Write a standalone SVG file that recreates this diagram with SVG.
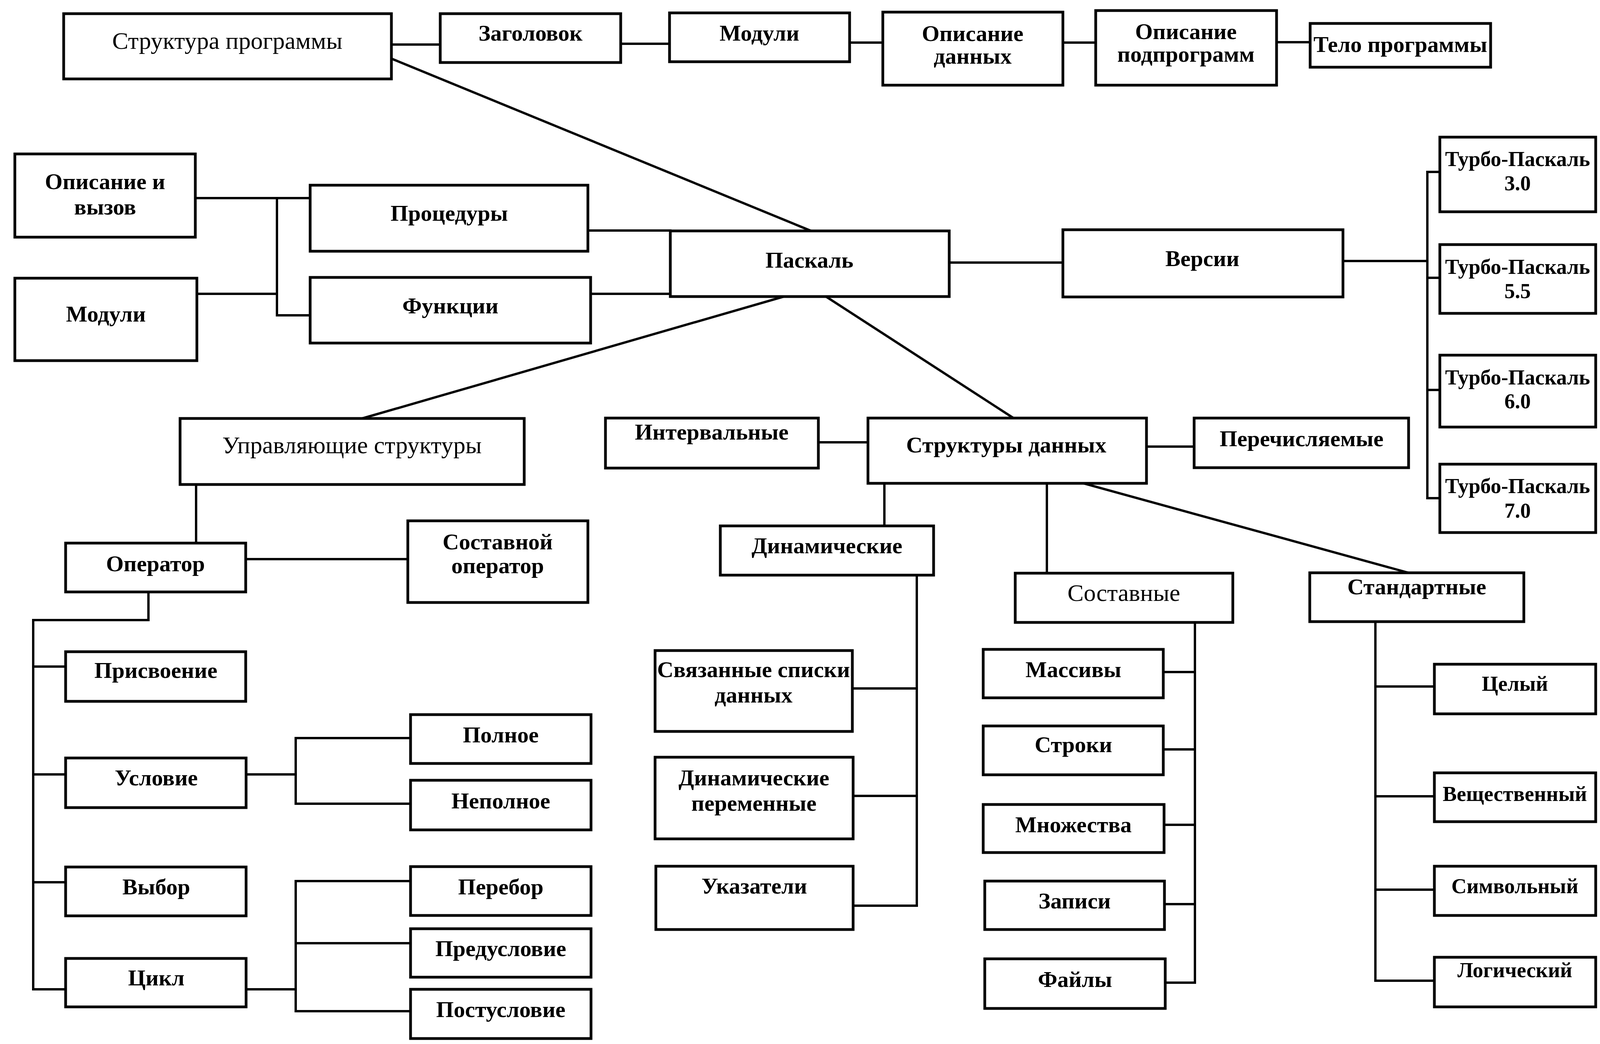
<svg xmlns="http://www.w3.org/2000/svg" width="4232" height="2672" viewBox="0 0 4232 2672">
<style>
.box{fill:#fff;stroke:#000;stroke-width:7}
.c{stroke:#000;stroke-width:6;fill:none;stroke-linecap:square}
.t{font-family:"Liberation Serif","Times New Roman",serif;font-size:58px;font-weight:bold;text-anchor:middle;fill:#000}
.r{font-weight:normal;font-size:62px}
.s{font-size:54px}
</style>
<rect width="4232" height="2672" fill="#fff"/>
<g id="connectors">
<path class="c" d="M1002 114H1127M1589 112H1714M2175 109H2260M2721 109H2805M3268 108H3354"/>
<path class="c" d="M1007 152L2074 590"/>
<path class="c" d="M500 507H794M709 507V807H794M504 752H709"/>
<path class="c" d="M1505 590H1716M1512 752H1716"/>
<path class="c" d="M2430 672H2721"/>
<path class="c" d="M3438 668H3654M3654 440V1275M3654 440H3686M3654 711H3686M3654 998H3686M3654 1275H3686"/>
<path class="c" d="M2003 760L920 1073M2116 760L2596 1071"/>
<path class="c" d="M2095 1132H2222M2935 1143H3057"/>
<path class="c" d="M502 1240V1390M629 1431H1044"/>
<path class="c" d="M380 1515V1587H85V2532M85 1706H168M85 1982H168M85 2258H168M85 2532H168"/>
<path class="c" d="M630 1982H757M757 1889V2057M757 1889H1051M757 2057H1051"/>
<path class="c" d="M630 2532H757M757 2255V2588M757 2255H1051M757 2414H1051M757 2588H1051"/>
<path class="c" d="M2264 1237V1346M2347 1472V2318M2182 1762H2347M2184 2037H2347M2184 2318H2347"/>
<path class="c" d="M2680 1237V1467M3059 1593V2515M2978 1720H3059M2978 1918H3059M2980 2111H3059M2981 2314H3059M2983 2515H3059"/>
<path class="c" d="M2777 1238L3606 1466"/>
<path class="c" d="M3521 1591V2510M3521 1757H3672M3521 2038H3672M3521 2277H3672M3521 2510H3672"/>
</g>
<g id="n1"><rect class="box" x="163" y="35" width="839" height="167"/><text class="t r" x="582" y="125">Структура программы</text></g>
<g id="n2"><rect class="box" x="1127" y="35" width="462" height="125"/><text class="t" x="1358" y="104">Заголовок</text></g>
<g id="n3"><rect class="box" x="1714" y="33" width="461" height="125"/><text class="t" x="1944" y="104">Модули</text></g>
<g id="n4"><rect class="box" x="2260" y="31" width="461" height="187"/><text class="t" x="2490" y="105">Описание</text><text class="t" x="2490" y="163">данных</text></g>
<g id="n5"><rect class="box" x="2805" y="27" width="463" height="191"/><text class="t" x="3036" y="100">Описание</text><text class="t" x="3036" y="158">подпрограмм</text></g>
<g id="n6"><rect class="box" x="3354" y="60" width="462" height="112"/><text class="t" x="3585" y="133">Тело программы</text></g>
<g id="n7"><rect class="box" x="38" y="394" width="462" height="213"/><text class="t" x="269" y="484">Описание и</text><text class="t" x="269" y="549">вызов</text></g>
<g id="n8"><rect class="box" x="38" y="712" width="466" height="211"/><text class="t" x="271" y="823">Модули</text></g>
<g id="n9"><rect class="box" x="794" y="474" width="711" height="169"/><text class="t" x="1150" y="565">Процедуры</text></g>
<g id="n10"><rect class="box" x="794" y="710" width="718" height="168"/><text class="t" x="1153" y="802">Функции</text></g>
<g id="n11"><rect class="box" x="1716" y="591" width="714" height="168"/><text class="t" x="2072" y="685">Паскаль</text></g>
<g id="n12"><rect class="box" x="2721" y="588" width="717" height="172"/><text class="t" x="3078" y="681">Версии</text></g>
<g id="n13"><rect class="box" x="3686" y="351" width="399" height="191"/><text class="t s" x="3885" y="425">Турбо-Паскаль</text><text class="t s" x="3885" y="487">3.0</text></g>
<g id="n14"><rect class="box" x="3686" y="626" width="399" height="176"/><text class="t s" x="3885" y="701">Турбо-Паскаль</text><text class="t s" x="3885" y="763">5.5</text></g>
<g id="n15"><rect class="box" x="3686" y="909" width="399" height="184"/><text class="t s" x="3885" y="984">Турбо-Паскаль</text><text class="t s" x="3885" y="1045">6.0</text></g>
<g id="n16"><rect class="box" x="3686" y="1188" width="399" height="175"/><text class="t s" x="3885" y="1262">Турбо-Паскаль</text><text class="t s" x="3885" y="1325">7.0</text></g>
<g id="n17"><rect class="box" x="461" y="1071" width="881" height="169"/><text class="t r" x="901" y="1160">Управляющие структуры</text></g>
<g id="n18"><rect class="box" x="1550" y="1070" width="545" height="128"/><text class="t" x="1822" y="1125">Интервальные</text></g>
<g id="n19"><rect class="box" x="2222" y="1070" width="713" height="167"/><text class="t" x="2576" y="1158">Структуры данных</text></g>
<g id="n20"><rect class="box" x="3057" y="1070" width="549" height="127"/><text class="t" x="3332" y="1142">Перечисляемые</text></g>
<g id="n21"><rect class="box" x="168" y="1390" width="461" height="125"/><text class="t" x="398" y="1462">Оператор</text></g>
<g id="n22"><rect class="box" x="1044" y="1333" width="461" height="209"/><text class="t" x="1274" y="1406">Составной</text><text class="t" x="1274" y="1467">оператор</text></g>
<g id="n23"><rect class="box" x="168" y="1668" width="461" height="127"/><text class="t" x="399" y="1735">Присвоение</text></g>
<g id="n24"><rect class="box" x="168" y="1940" width="462" height="127"/><text class="t" x="400" y="2010">Условие</text></g>
<g id="n25"><rect class="box" x="168" y="2219" width="462" height="125"/><text class="t" x="400" y="2289">Выбор</text></g>
<g id="n26"><rect class="box" x="168" y="2453" width="462" height="124"/><text class="t" x="400" y="2522">Цикл</text></g>
<g id="n27"><rect class="box" x="1051" y="1829" width="462" height="125"/><text class="t" x="1282" y="1900">Полное</text></g>
<g id="n28"><rect class="box" x="1051" y="1997" width="462" height="127"/><text class="t" x="1282" y="2069">Неполное</text></g>
<g id="n29"><rect class="box" x="1051" y="2218" width="462" height="125"/><text class="t" x="1282" y="2289">Перебор</text></g>
<g id="n30"><rect class="box" x="1051" y="2377" width="462" height="124"/><text class="t" x="1282" y="2447">Предусловие</text></g>
<g id="n31"><rect class="box" x="1051" y="2532" width="462" height="126"/><text class="t" x="1282" y="2603">Постусловие</text></g>
<g id="n32"><rect class="box" x="1844" y="1346" width="546" height="126"/><text class="t" x="2117" y="1416">Динамические</text></g>
<g id="n33"><rect class="box" x="1677" y="1665" width="505" height="207"/><text class="t" x="1929" y="1733">Связанные списки</text><text class="t" x="1929" y="1798">данных</text></g>
<g id="n34"><rect class="box" x="1677" y="1938" width="507" height="209"/><text class="t" x="1930" y="2010">Динамические</text><text class="t" x="1930" y="2075">переменные</text></g>
<g id="n35"><rect class="box" x="1679" y="2217" width="505" height="162"/><text class="t" x="1931" y="2287">Указатели</text></g>
<g id="n36"><rect class="box" x="2599" y="1467" width="557" height="126"/><text class="t r" x="2877" y="1538">Составные</text></g>
<g id="n37"><rect class="box" x="2517" y="1662" width="461" height="124"/><text class="t" x="2748" y="1733">Массивы</text></g>
<g id="n38"><rect class="box" x="2517" y="1858" width="461" height="125"/><text class="t" x="2748" y="1925">Строки</text></g>
<g id="n39"><rect class="box" x="2517" y="2059" width="463" height="123"/><text class="t" x="2748" y="2130">Множества</text></g>
<g id="n40"><rect class="box" x="2521" y="2255" width="460" height="124"/><text class="t" x="2751" y="2325">Записи</text></g>
<g id="n41"><rect class="box" x="2521" y="2454" width="462" height="127"/><text class="t" x="2752" y="2526">Файлы</text></g>
<g id="n42"><rect class="box" x="3353" y="1466" width="548" height="125"/><text class="t" x="3627" y="1521">Стандартные</text></g>
<g id="n43"><rect class="box" x="3672" y="1700" width="413" height="127"/><text class="t s" x="3878" y="1768">Целый</text></g>
<g id="n44"><rect class="box" x="3672" y="1978" width="413" height="125"/><text class="t s" x="3878" y="2050">Вещественный</text></g>
<g id="n45"><rect class="box" x="3672" y="2217" width="413" height="126"/><text class="t s" x="3878" y="2286">Символьный</text></g>
<g id="n46"><rect class="box" x="3672" y="2450" width="413" height="127"/><text class="t s" x="3878" y="2501">Логический</text></g>
</svg>
